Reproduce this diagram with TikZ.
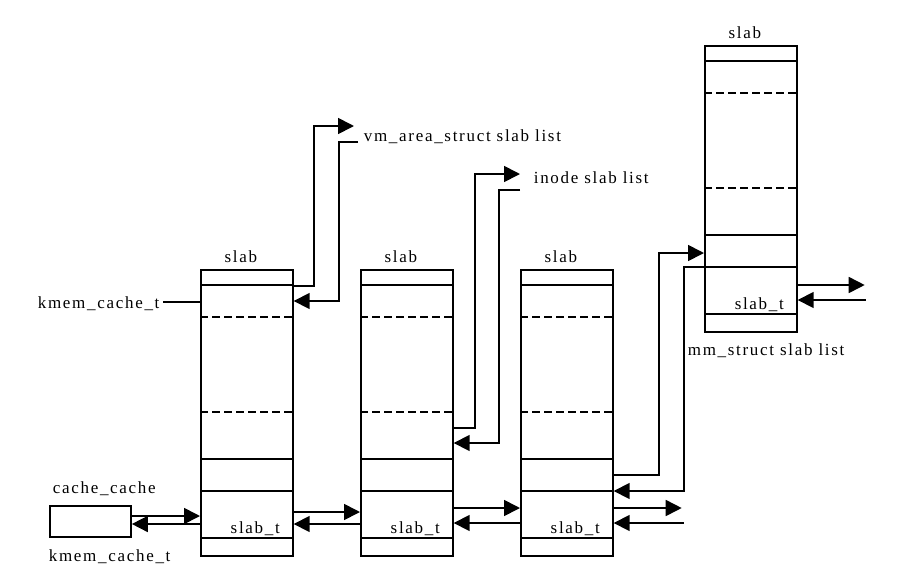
\documentclass[tikz,border=0pt]{standalone}
\usepackage{fontspec}
\setmainfont[LetterSpace=10]{Liberation Serif}
\usetikzlibrary{arrows.meta,calc}

\begin{document}
\begin{tikzpicture}[x=1pt,y=-1pt,
  line width=1.7pt,
  lbl/.style={font=\fontsize{17}{20}\selectfont, inner sep=0pt},
  slabbox/.style={draw, rectangle, inner sep=0pt, minimum width=92pt,
                  minimum height=286pt, anchor=north west},
  objbox/.style={draw, rectangle, inner sep=0pt, minimum width=81pt, minimum height=31pt},
  sep/.style={dash pattern=on 8pt off 4pt},
  arr/.style={-{Triangle[length=16pt,width=16pt]}},
]
\useasboundingbox (0,0) rectangle (897,587);

% the four slabs
\node[slabbox] (s1) at (200,269) {};
\node[slabbox] (s2) at (360,269) {};
\node[slabbox] (s3) at (520,269) {};
\node[slabbox] (s4) at (704,45) {};

% inner divisions of every slab
\foreach \s in {s1,s2,s3,s4} {
  \foreach \d in {16,190,222,269}
    \draw ($(\s.north west)+(0,\d)$) -- ($(\s.north east)+(0,\d)$);
  \foreach \d in {48,143}
    \draw[sep] ($(\s.north west)+(0,\d)$) -- ($(\s.north east)+(0,\d)$);
  \node[lbl, anchor=base] (\s-name) at ($(\s.north)+(-6,-7)$) {slab};
  \node[lbl, anchor=base east] (\s-desc) at ($(\s.north east)+(-13,264)$) {slab\_t};
}

% cache_cache descriptor
\node[objbox] (cache) at (90.5,521.5) {};
\node[lbl, anchor=base west] (cachename) at (52,493) {cache\_cache};
\node[lbl, anchor=base west] (cachetype) at (48,561) {kmem\_cache\_t};

% kmem_cache_t marker on the first slab
\node[lbl, anchor=base west] (slabtype) at (37,308) {kmem\_cache\_t};
\coordinate (kl) at ([xshift=3pt,yshift=6pt]slabtype.base east);
\draw (kl) -- (kl -| s1.west);

% list labels
\node[lbl, anchor=base west] (vmlbl) at (363,141) {vm\_area\_struct slab list};
\node[lbl, anchor=base west] (inodelbl) at (533,183) {inode slab list};
\node[lbl, anchor=base west] (mmlbl) at (687,355) {mm\_struct slab list};

% vm_area_struct slab list links
\coordinate (vmout) at (354,126);
\coordinate (vmin) at (358,142);
\draw[arr] ($(s1.north east)+(0,17)$) -| ($(vmout)+(-40,0)$) -- (vmout);
\draw[arr] (vmin) -| ($(s1.north east)+(45,32)$) -- ($(s1.north east)+(0,32)$);

% inode slab list links
\coordinate (inodeout) at (520,174);
\coordinate (inodein) at (520,190);
\draw[arr] ($(s2.north east)+(0,159)$) -| ($(inodeout)+(-45,0)$) -- (inodeout);
\draw[arr] (inodein) -| ($(s2.north east)+(45,174)$) -- ($(s2.north east)+(0,174)$);

% mm_struct slab list links
\draw[arr] ($(s3.north east)+(0,206)$) -| ($(s4.north west)+(-45,208)$) -- ($(s4.north west)+(0,208)$);
\draw[arr] ($(s4.north west)+(0,222)$) -| ($(s3.north east)+(70,222)$) -- ($(s3.north east)+(0,222)$);

% cache_cache <-> first slab
\coordinate (c1) at ($(cache.east)+(0,-5.5)$);
\coordinate (c2) at ($(cache.east)+(0,2.5)$);
\draw[arr] (c1) -- (c1 -| s1.west);
\draw[arr] (c2 -| s1.west) -- (c2);

% slab_t chain
\draw[arr] ($(s1.north east)+(0,243)$) -- ($(s2.north west)+(0,243)$);
\draw[arr] ($(s2.north west)+(0,255)$) -- ($(s1.north east)+(0,255)$);
\draw[arr] ($(s2.north east)+(0,239)$) -- ($(s3.north west)+(0,239)$);
\draw[arr] ($(s3.north west)+(0,254)$) -- ($(s2.north east)+(0,254)$);

% open ends of the chains
\coordinate (r3out) at ($(s3.north east)+(68,239)$);
\coordinate (r3in) at ($(s3.north east)+(70,254)$);
\draw[arr] ($(s3.north east)+(0,239)$) -- (r3out);
\draw[arr] (r3in) -- ($(s3.north east)+(0,254)$);

\coordinate (r4out) at ($(s4.north east)+(67,240)$);
\coordinate (r4in) at ($(s4.north east)+(68,255)$);
\draw[arr] ($(s4.north east)+(0,240)$) -- (r4out);
\draw[arr] (r4in) -- ($(s4.north east)+(0,255)$);
\end{tikzpicture}
\end{document}
